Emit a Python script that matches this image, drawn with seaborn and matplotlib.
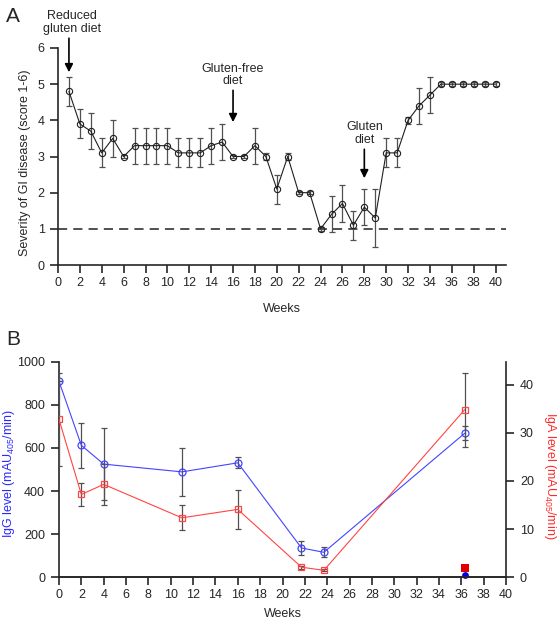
import numpy as np
import pandas as pd
import matplotlib
matplotlib.use("Agg")
import matplotlib.pyplot as plt
import seaborn as sns

# ---------------- data ----------------
weeks_a = list(range(1, 41))
severity = [4.8, 3.9, 3.7, 3.1, 3.5, 3.0, 3.3, 3.3, 3.3, 3.3,
            3.1, 3.1, 3.1, 3.3, 3.4, 3.0, 3.0, 3.3, 3.0, 2.1,
            3.0, 2.0, 2.0, 1.0, 1.4, 1.7, 1.1, 1.6, 1.3, 3.1,
            3.1, 4.0, 4.4, 4.7, 5.0, 5.0, 5.0, 5.0, 5.0, 5.0]
severity_err = [0.4, 0.4, 0.5, 0.4, 0.5, 0.05, 0.5, 0.5, 0.5, 0.5,
                0.4, 0.4, 0.4, 0.5, 0.5, 0.05, 0.05, 0.5, 0.1, 0.4,
                0.1, 0.05, 0.05, 0.05, 0.5, 0.5, 0.4, 0.5, 0.8, 0.4,
                0.4, 0.1, 0.5, 0.5, 0.05, 0.05, 0.05, 0.05, 0.05, 0.05]
annotations = [("Reduced\ngluten diet", 1), ("Gluten-free\ndiet", 16), ("Gluten\ndiet", 28)]
annot_tops = [6.27, 4.83, 3.2]
annot_tips = [5.33, 3.95, 2.4]

weeks_b = [0, 2, 4, 11, 16, 21.7, 23.7, 36.3]
igg = [909, 612, 525, 489, 531, 136, 116, 668]
igg_err = [0, 104, 168, 113, 25, 33, 23, 32]
iga = [32.8, 17.2, 19.3, 12.35, 14.1, 2.1, 1.45, 34.8]
iga_err = [9.7, 2.4, 4.2, 2.6, 4.1, 0.3, 0.2, 7.7]
control_week = [36.3]
control_igg = [12]
control_iga = [1.9]

# ---------------- style ----------------
sns.set_style("ticks")
plt.rcParams['font.family'] = ['Liberation Sans', 'DejaVu Sans']
plt.rcParams['mathtext.fontset'] = 'custom'
plt.rcParams['mathtext.rm'] = 'Liberation Sans'
plt.rcParams['mathtext.it'] = 'Liberation Sans'
plt.rcParams['xtick.major.size'] = 5.5
plt.rcParams['ytick.major.size'] = 5.5
plt.rcParams['xtick.major.width'] = 1.2
plt.rcParams['ytick.major.width'] = 1.2
plt.rcParams['axes.linewidth'] = 1.2

fig = plt.figure(figsize=(5.58, 6.24), dpi=100)
W, H = 558, 624

def ax_rect(l, r, t, b):
    return [l / W, 1 - b / H, (r - l) / W, (b - t) / H]

ecol = '#505050'

# ---------------- panel A ----------------
axA = fig.add_axes(ax_rect(58, 506, 48, 265))
dfA = pd.DataFrame({"week": weeks_a, "score": severity})
axA.errorbar(weeks_a, severity, yerr=severity_err, fmt='none', ecolor=ecol,
             elinewidth=0.9, capsize=2.5, capthick=0.9, zorder=2)
sns.lineplot(data=dfA, x="week", y="score", ax=axA, color='#202020', lw=0.8,
             marker='o', markersize=4.5, markerfacecolor='none',
             markeredgecolor='#202020', markeredgewidth=0.8, zorder=3)
axA.axhline(1, color='#202020', lw=1.1, ls=(0, (6, 4)), zorder=1)
axA.set_xlim(0, 40.95)
axA.set_ylim(0, 6)
axA.set_xticks(np.arange(0, 41, 2))
axA.set_yticks(np.arange(0, 7, 1))
axA.tick_params(axis='x', labelsize=9, direction='out', pad=3)
axA.tick_params(axis='y', labelsize=9, direction='out', pad=4)
axA.set_xlabel("Weeks", fontsize=9, labelpad=10)
axA.set_ylabel("Severity of GI disease (score 1-6)", fontsize=9, va='center')
axA.yaxis.set_label_coords((25 - 58) / 448, 0.47)
sns.despine(ax=axA)
for (txt, wk), top, tip in zip(annotations, annot_tops, annot_tips):
    axA.annotate("", xy=(wk, tip), xytext=(wk, top),
                 arrowprops=dict(arrowstyle='-|>', color='black', lw=1.2,
                                 mutation_scale=12, shrinkA=0, shrinkB=0),
                 annotation_clip=False)
    axA.text(wk + (0.3 if wk == 1 else 0), top + 0.08, txt, ha='center', va='bottom',
             fontsize=9, linespacing=1.1, clip_on=False)
fig.text(6 / W, 1 - 22 / H, "A", fontsize=15)

# ---------------- panel B ----------------
axB = fig.add_axes(ax_rect(59, 506, 361.7, 577.3))
axR = axB.twinx()
dfB = pd.DataFrame({"week": weeks_b, "igg": igg, "iga": iga})
blue = '#4444ff'
red = '#ff4444'
axB.errorbar(weeks_b, igg, yerr=igg_err, fmt='none', ecolor=ecol,
             elinewidth=0.9, capsize=2.5, capthick=0.9, zorder=2)
sns.lineplot(data=dfB, x="week", y="igg", ax=axB, color=blue, lw=0.8,
             marker='o', markersize=5, markerfacecolor='none',
             markeredgecolor=blue, markeredgewidth=0.9, zorder=3)
axR.errorbar(weeks_b, iga, yerr=iga_err, fmt='none', ecolor=ecol,
             elinewidth=0.9, capsize=2.5, capthick=0.9, zorder=2)
sns.lineplot(data=dfB, x="week", y="iga", ax=axR, color=red, lw=0.8,
             marker='s', markersize=4, markerfacecolor='none',
             markeredgecolor=red, markeredgewidth=0.9, zorder=3)
sns.scatterplot(x=control_week, y=control_iga, ax=axR, color='#e00000', marker='s',
                s=26, linewidth=0, zorder=4)
sns.scatterplot(x=control_week, y=control_igg, ax=axB, color='#0000dd', marker='o',
                s=24, linewidth=0, zorder=4, clip_on=False)

axB.set_xlim(0, 40)
axB.set_ylim(0, 1000)
axR.set_ylim(0, 44.77)
axB.set_xticks(np.arange(0, 41, 2))
axB.set_yticks(np.arange(0, 1001, 200))
axR.set_yticks(np.arange(0, 41, 10))
for a in (axB, axR):
    a.tick_params(axis='x', labelsize=9, direction='out', pad=3)
    a.tick_params(axis='y', labelsize=9, direction='out', pad=4.5)
    a.spines['top'].set_visible(False)
axB.spines['right'].set_visible(False)
axR.spines['left'].set_visible(False)
axB.set_xlabel("Weeks", fontsize=9, labelpad=5)
axB.set_ylabel("IgG level (mAU$_{405}$/min)", fontsize=9, color='#2a2aff', va='center')
axB.yaxis.set_label_coords((9 - 59) / 447, 0.48)
axR.set_ylabel("IgA level (mAU$_{405}$/min)", fontsize=9, color='#ff2a2a',
               rotation=-90, va='center')
axR.yaxis.set_label_coords((550 - 59) / 447, 0.47)
fig.text(6 / W, 1 - 345 / H, "B", fontsize=15)

fig.savefig("out.png", dpi=100)
